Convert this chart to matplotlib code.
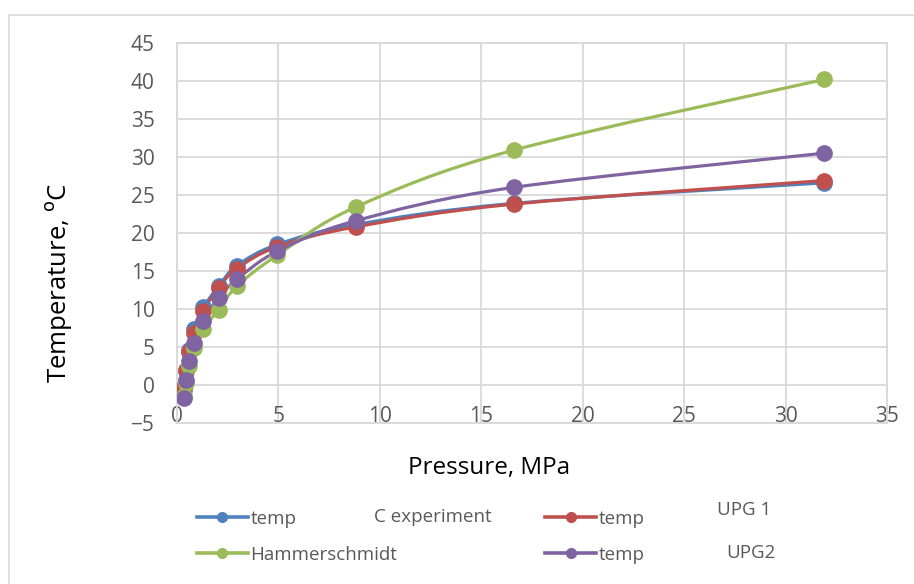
import numpy as np
import matplotlib
matplotlib.use("Agg")
import matplotlib.pyplot as plt
from matplotlib.path import Path
from matplotlib.patches import PathPatch, Rectangle
from matplotlib.lines import Line2D

plt.rcParams['font.family'] = ['Open Sans', 'DejaVu Sans']

# pressure, MPa
pressure = [0.35, 0.45, 0.6, 0.85, 1.3, 2.05, 2.95, 4.95, 8.8, 16.6, 31.9]
# temperature, oC
t_experiment = [-0.6, 1.8, 4.6, 7.4, 10.2, 13.0, 15.7, 18.5, 21.1, 23.9, 26.6]
t_upg1 = [-0.3, 2.0, 4.4, 6.9, 9.8, 12.8, 15.3, 18.2, 20.8, 23.8, 26.9]
t_hammer = [-1.4, 0.3, 2.5, 4.9, 7.4, 9.9, 13.0, 17.1, 23.4, 30.9, 40.2]
t_upg2 = [-1.7, 0.6, 3.1, 5.5, 8.4, 11.5, 13.9, 17.6, 21.6, 26.0, 30.5]

x_ticks = [0, 5, 10, 15, 20, 25, 30, 35]
y_ticks = [-5, 0, 5, 10, 15, 20, 25, 30, 35, 40, 45]

BLUE = '#4F81BD'
RED = '#C0504D'
GREEN = '#9BBB59'
PURPLE = '#8064A2'
GRID = '#D9D9D9'
TXT = '#595959'


def smooth_path(x, y):
    # excel-like smoothed line: cubic bezier segments through the points
    pts = np.column_stack([x, y]).astype(float)
    n = len(pts)
    verts = [pts[0]]
    codes = [Path.MOVETO]
    for i in range(n - 1):
        p0 = pts[max(i - 1, 0)]
        p1 = pts[i]
        p2 = pts[i + 1]
        p3 = pts[min(i + 2, n - 1)]
        c1 = p1 + (p2 - p0) / 6.0
        c2 = p2 - (p3 - p1) / 6.0
        verts += [c1, c2, p2]
        codes += [Path.CURVE4] * 3
    return Path(verts, codes)


fig = plt.figure(figsize=(9.14, 5.84), dpi=100)
ax = fig.add_axes([177 / 914, 1 - 423 / 584, 710 / 914, 380 / 584])

# outer chart frame
fig.patches.append(Rectangle((9 / 914, -0.1), 1.2, 1 - 15 / 584 + 0.1,
                             transform=fig.transFigure, fill=False,
                             edgecolor=GRID, linewidth=1.2))

series = [
    (t_experiment, BLUE),
    (t_upg1, RED),
    (t_hammer, GREEN),
    (t_upg2, PURPLE),
]
for vals, col in series:
    ax.add_patch(PathPatch(smooth_path(pressure, vals), fill=False,
                           edgecolor=col, linewidth=2.3, capstyle='round',
                           zorder=3))
    ax.plot(pressure, vals, linestyle='none', marker='o', markersize=11,
            color=col, zorder=4)

ax.set_xlim(0, 35)
ax.set_ylim(-5, 45)
ax.set_xticks(x_ticks)
ax.set_yticks(y_ticks)
ax.grid(True, color=GRID, linewidth=1.3)
ax.set_axisbelow(True)
for s in ax.spines.values():
    s.set_color(GRID)
    s.set_linewidth(1.3)
ax.tick_params(length=0, labelsize=15, labelcolor=TXT)
ax.tick_params(axis='y', pad=16)
ax.tick_params(axis='x', pad=3)
plt.setp(ax.get_xticklabels(), va='bottom')

fig.text(58 / 914, 1 - 283 / 584, 'Temperature, $^{\\mathrm{o}}$C',
         rotation=90, ha='center', va='center', fontsize=18.5, color='black')
fig.text(489 / 914, 1 - 468 / 584, 'Pressure, MPa', ha='center',
         va='center', fontsize=17.5, color='black')

# legend
handles = [Line2D([], [], color=c, linewidth=2.6, marker='o', markersize=7)
           for c in (BLUE, GREEN, RED, PURPLE)]
labels = ['temp', 'Hammerschmidt', 'temp', 'temp']
fig.legend(handles, labels, ncol=2, loc='upper left',
           bbox_to_anchor=(180 / 914, 1 - 493 / 584), frameon=False,
           fontsize=13.5, labelcolor=TXT, handlelength=2.7, handletextpad=0.15,
           columnspacing=7.9, labelspacing=0.95)
fig.text(374 / 914, 1 - 517 / 584, 'C experiment', fontsize=13.5, color=TXT,
         va='center')
fig.text(717 / 914, 1 - 510 / 584, 'UPG 1', fontsize=13.5, color=TXT,
         va='center')
fig.text(726 / 914, 1 - 553 / 584, 'UPG2', fontsize=13.5, color=TXT,
         va='center')

fig.savefig('out.png', dpi=100)
